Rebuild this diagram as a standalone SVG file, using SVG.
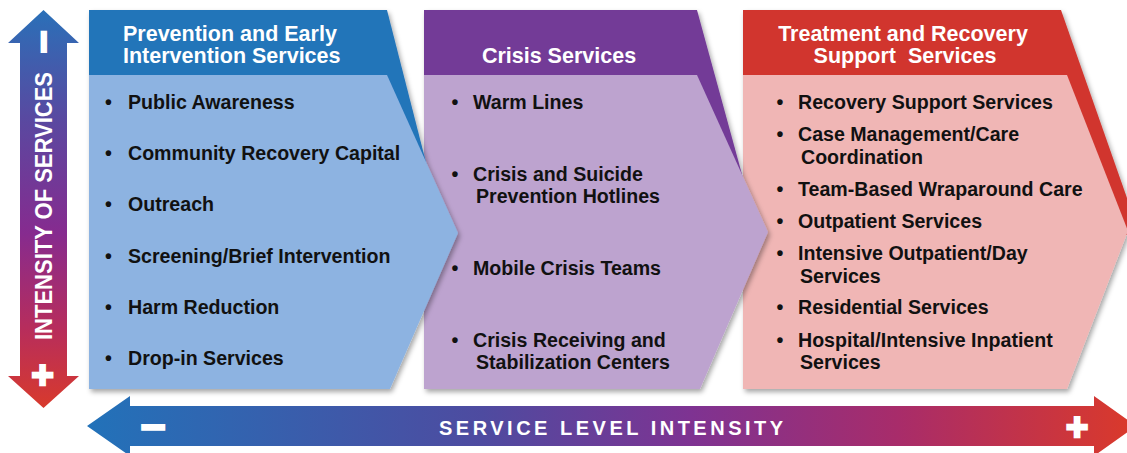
<svg xmlns="http://www.w3.org/2000/svg" width="1127" height="453" viewBox="0 0 1127 453">
<defs>
<linearGradient id="gv" gradientUnits="userSpaceOnUse" x1="0" y1="10" x2="0" y2="408">
<stop offset="0" stop-color="#2a70b8"/>
<stop offset="0.28" stop-color="#5a48a0"/>
<stop offset="0.56" stop-color="#862b8f"/>
<stop offset="0.8" stop-color="#b72d5c"/>
<stop offset="1" stop-color="#d83a2c"/>
</linearGradient>
<linearGradient id="gh" gradientUnits="userSpaceOnUse" x1="87" y1="0" x2="1127" y2="0">
<stop offset="0" stop-color="#2272b9"/>
<stop offset="0.38" stop-color="#4e4ba0"/>
<stop offset="0.58" stop-color="#7e3392"/>
<stop offset="0.78" stop-color="#a82c6a"/>
<stop offset="1" stop-color="#d9392c"/>
</linearGradient>
<filter id="shadow" x="-5%" y="-5%" width="115%" height="115%">
<feDropShadow dx="2" dy="3" stdDeviation="2.5" flood-color="#000" flood-opacity="0.35"/>
</filter>
</defs>
<style>
.hd{font-family:"Liberation Sans",Arial,sans-serif;font-weight:bold;font-size:21.5px;fill:#fff}
.it{font-family:"Liberation Sans",Arial,sans-serif;font-weight:bold;font-size:19.6px;fill:#111}
.bu{font-family:"Liberation Sans",Arial,sans-serif;font-weight:bold;font-size:19.6px;fill:#111;text-anchor:middle}
.ax{font-family:"Liberation Sans",Arial,sans-serif;font-weight:bold;fill:#fff}
.sym{font-family:"Liberation Sans",Arial,sans-serif;font-weight:bold;fill:#fff;stroke:#fff;text-anchor:middle}
</style>
<rect width="1127" height="453" fill="#fff"/>

<g id="treatment" filter="url(#shadow)">
<polygon points="743,10 1061,10 1127,198 1127,235 743,235" fill="#d1362f"/>
<polygon points="743,75 1067,75 1128,231 1067,389 743,389" fill="#f0b6b5"/>
</g>
<g id="crisis" filter="url(#shadow)">
<polygon points="424,10 697,10 743,178 424,178" fill="#733b97"/>
<polygon points="424,75 697,75 768,232 700,389 424,389" fill="#bda3cf"/>
</g>
<g id="prevention" filter="url(#shadow)">
<polygon points="89,10 387,10 430,178 89,178" fill="#2474b9"/>
<polygon points="89,75 387,75 458,233 390,389 89,389" fill="#8db3e1"/>
</g>

<g id="prevention-text">
<text class="hd" x="123" y="40.5">Prevention and Early</text>
<text class="hd" x="123" y="62.5">Intervention Services</text>
<text class="bu" x="108.5" y="109">•</text><text class="it" x="128" y="109">Public Awareness</text>
<text class="bu" x="108.5" y="160">•</text><text class="it" x="128" y="160">Community Recovery Capital</text>
<text class="bu" x="108.5" y="211">•</text><text class="it" x="128" y="211">Outreach</text>
<text class="bu" x="108.5" y="263">•</text><text class="it" x="128" y="263">Screening/Brief Intervention</text>
<text class="bu" x="108.5" y="314">•</text><text class="it" x="128" y="314">Harm Reduction</text>
<text class="bu" x="108.5" y="365">•</text><text class="it" x="128" y="365">Drop-in Services</text>
</g>

<g id="crisis-text">
<text class="hd" x="559" y="63" text-anchor="middle">Crisis Services</text>
<text class="bu" x="455" y="109">•</text><text class="it" x="473" y="109">Warm Lines</text>
<text class="bu" x="455" y="181">•</text><text class="it" x="473" y="181">Crisis and Suicide</text>
<text class="it" x="476" y="203">Prevention Hotlines</text>
<text class="bu" x="455" y="275">•</text><text class="it" x="473" y="275">Mobile Crisis Teams</text>
<text class="bu" x="455" y="347">•</text><text class="it" x="473" y="347">Crisis Receiving and</text>
<text class="it" x="476" y="369">Stabilization Centers</text>
</g>

<g id="treatment-text">
<text class="hd" x="903" y="40.5" text-anchor="middle">Treatment and Recovery</text>
<text class="hd" x="905" y="62.5" text-anchor="middle" xml:space="preserve">Support  Services</text>
<text class="bu" x="780" y="109">•</text><text class="it" x="798" y="109">Recovery Support Services</text>
<text class="bu" x="780" y="141">•</text><text class="it" x="798" y="141">Case Management/Care</text>
<text class="it" x="801" y="164">Coordination</text>
<text class="bu" x="780" y="196">•</text><text class="it" x="798" y="196">Team-Based Wraparound Care</text>
<text class="bu" x="780" y="228">•</text><text class="it" x="798" y="228">Outpatient Services</text>
<text class="bu" x="780" y="260">•</text><text class="it" x="798" y="260">Intensive Outpatient/Day</text>
<text class="it" x="800" y="283">Services</text>
<text class="bu" x="780" y="314">•</text><text class="it" x="798" y="314">Residential Services</text>
<text class="bu" x="780" y="347">•</text><text class="it" x="798" y="347">Hospital/Intensive Inpatient</text>
<text class="it" x="800" y="369">Services</text>
</g>

<g id="connectors">
<g id="intensity-axis">
<polygon points="43.5,10 79,43 67,43 67,376 79,376 43.5,408 8,376 20,376 20,43 8,43" fill="url(#gv)"/>
<text class="sym" font-size="40" stroke-width="2" transform="translate(43,42) rotate(-90)" x="0" y="13.6">−</text>
<text class="ax" font-size="24" text-anchor="middle" textLength="268" lengthAdjust="spacingAndGlyphs" transform="translate(43,206) rotate(-90)" x="0" y="9">INTENSITY OF SERVICES</text>
<text class="sym" font-size="38" stroke-width="2.5" x="42.5" y="387.5">+</text>
</g>
<g id="service-level-axis">
<polygon points="87,426 130,396 130,406 1094,406 1094,396 1136,426 1094,456 1094,446 130,446 130,456" fill="url(#gh)"/>
<text class="sym" font-size="44" stroke-width="2" x="153" y="442">−</text>
<text class="ax" font-size="20" x="439" y="435" letter-spacing="3.5">SERVICE LEVEL INTENSITY</text>
<text class="sym" font-size="38" stroke-width="2.5" x="1077" y="439.5">+</text>
</g>
</g>
</svg>
